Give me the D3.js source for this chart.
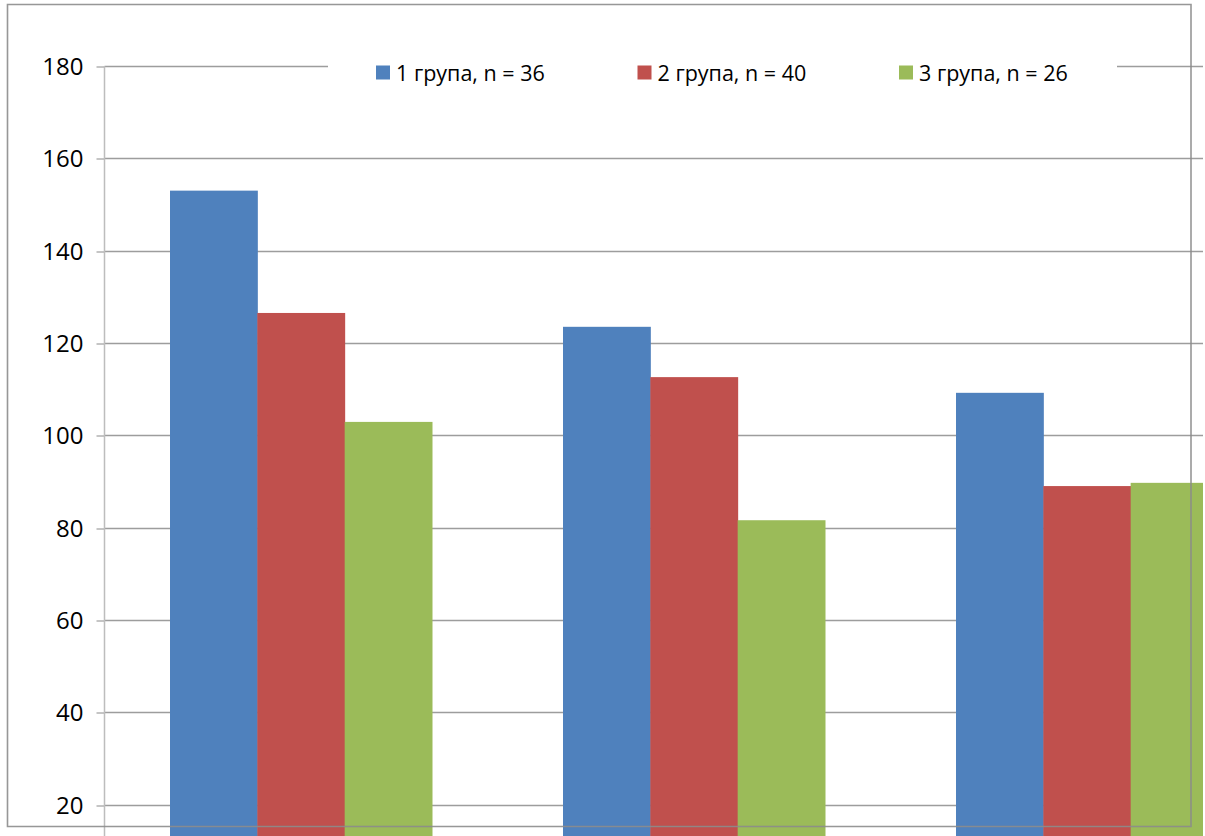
<!DOCTYPE html>
<html>
<head>
<meta charset="utf-8">
<script src="https://cdn.jsdelivr.net/npm/d3@7"></script>
<style>
  html, body { margin: 0; padding: 0; background: #ffffff; }
  svg { display: block; font-family: "Open Sans", "Noto Sans", sans-serif; }
</style>
</head>
<body>
<svg id="chart" width="1205" height="836"></svg>
<script>
// Groups compared across three measurements
const categories = ["I", "II", "III"];
const seriesNames = ["1 група, n = 36", "2 група, n = 40", "3 група, n = 26"];
const group1 = [153, 123.5, 109.2];
const group2 = [126.5, 112.6, 89.0];
const group3 = [102.9, 81.6, 89.7];
const yTicks = [20, 40, 60, 80, 100, 120, 140, 160, 180];
const colors = ["#4f81bd", "#c0504d", "#9bbb59"];

const seriesValues = [group1, group2, group3];
const rows = categories.map((c, i) => ({
  category: c,
  values: seriesNames.map((s, j) => ({ series: s, value: seriesValues[j][i], color: colors[j] }))
}));

const svg = d3.select("#chart");
const W = 1205, H = 836;

svg.append("rect").attr("width", W).attr("height", H).attr("fill", "#ffffff");

// Plot area: y axis at left edge, plot runs past the right of the page
const plotLeft = 104.5;
const plotRight = 1203;
const step = 393;
const x0 = d3.scaleBand()
  .domain(categories)
  .range([plotLeft, plotLeft + step * categories.length])
  .paddingInner(1 / 3)
  .paddingOuter(1 / 6);
const x1 = d3.scaleBand()
  .domain(seriesNames)
  .range([0, x0.bandwidth()]);
const y = d3.scaleLinear().domain([0, 180]).range([896.9, 66]);

svg.append("clipPath").attr("id", "plot-clip")
  .append("rect")
  .attr("x", 0).attr("y", 0).attr("width", plotRight).attr("height", H);

// Horizontal gridlines
svg.append("g")
  .selectAll("line")
  .data(yTicks)
  .join("line")
  .attr("x1", plotLeft)
  .attr("x2", plotRight)
  .attr("y1", d => Math.round(y(d)) + 0.5)
  .attr("y2", d => Math.round(y(d)) + 0.5)
  .attr("stroke", "#9d9d9d")
  .attr("stroke-width", 1.3);

// Y axis with ticks and labels
const yAxis = d3.axisLeft(y)
  .tickValues(yTicks)
  .tickSize(8)
  .tickPadding(13)
  .tickFormat(d3.format("d"));
const gy = svg.append("g")
  .attr("transform", `translate(${plotLeft},0)`)
  .call(yAxis);
gy.select(".domain").remove();
gy.selectAll(".tick line").attr("stroke", "#a6a6a6").attr("stroke-width", 1.3)
  .attr("transform", d => `translate(0,${Math.round(y(d)) + 0.5 - y(d)})`);
gy.selectAll(".tick text")
  .attr("font-family", "'Open Sans', sans-serif")
  .attr("font-size", 24)
  .attr("fill", "#000000")
  .attr("dy", "0.36em");
svg.append("line")
  .attr("x1", plotLeft).attr("x2", plotLeft)
  .attr("y1", y(180)).attr("y2", y(0))
  .attr("stroke", "#bdbdbd").attr("stroke-width", 1.5);

// Bars
svg.append("g")
  .attr("clip-path", "url(#plot-clip)")
  .selectAll("g")
  .data(rows)
  .join("g")
  .attr("transform", d => `translate(${x0(d.category)},0)`)
  .selectAll("rect")
  .data(d => d.values)
  .join("rect")
  .attr("x", d => x1(d.series))
  .attr("width", x1.bandwidth() + 0.5)
  .attr("y", d => y(d.value))
  .attr("height", d => y(0) - y(d.value))
  .attr("fill", d => d.color);

// Legend across the top gridline
const legend = svg.append("g");
legend.append("rect")
  .attr("x", 328).attr("y", 50).attr("width", 789).attr("height", 40)
  .attr("fill", "#ffffff");
const legendX0 = 376, legendStep = 261.5;
const items = legend.selectAll("g.item")
  .data(seriesNames)
  .join("g")
  .attr("class", "item")
  .attr("transform", (d, i) => `translate(${legendX0 + i * legendStep},0)`);
items.append("rect")
  .attr("x", 0).attr("y", 65.5).attr("width", 14).attr("height", 14)
  .attr("fill", (d, i) => colors[i]);
items.append("text")
  .attr("x", 20).attr("y", 81)
  .attr("font-size", 21.5)
  .attr("fill", "#000000")
  .text(d => d);

// Outer chart border
svg.append("path")
  .attr("d", "M7.5,4.5 H1191 V826.5 H7.5 Z")
  .attr("fill", "none")
  .attr("stroke", "#8c8c8c")
  .attr("stroke-opacity", 0.9)
  .attr("stroke-width", 1.6);
</script>
</body>
</html>
